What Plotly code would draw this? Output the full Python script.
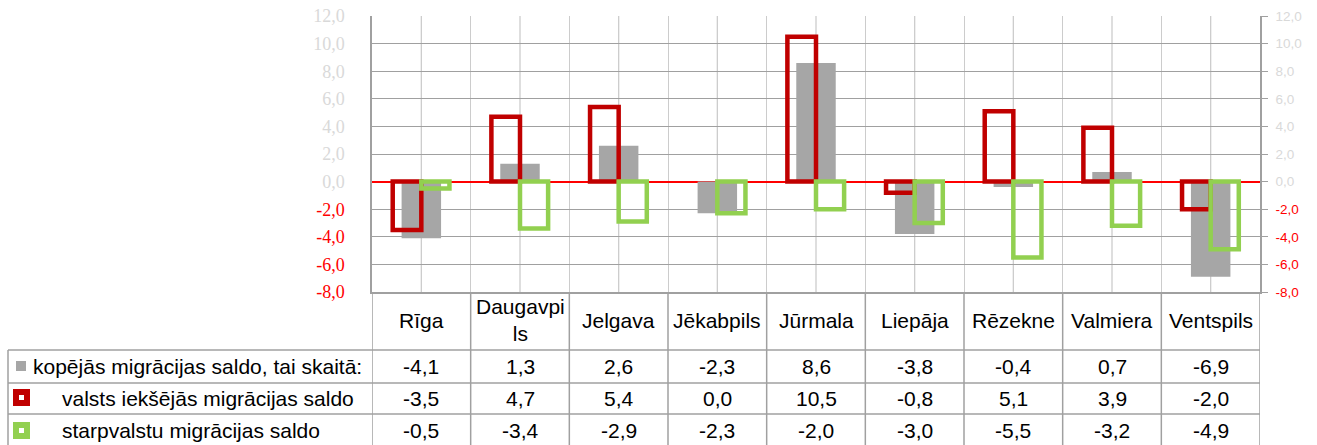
import plotly.graph_objects as go

# ── data ──────────────────────────────────────────────────────────────
cities = ["Rīga", "Daugavpils", "Jelgava", "Jēkabpils", "Jūrmala",
          "Liepāja", "Rēzekne", "Valmiera", "Ventspils"]
city_headers = ["Rīga", "Daugavpi<br>ls", "Jelgava", "Jēkabpils", "Jūrmala",
                "Liepāja", "Rēzekne", "Valmiera", "Ventspils"]

total_saldo = [-4.1, 1.3, 2.6, -2.3, 8.6, -3.8, -0.4, 0.7, -6.9]
internal_saldo = [-3.5, 4.7, 5.4, 0.0, 10.5, -0.8, 5.1, 3.9, -2.0]
external_saldo = [-0.5, -3.4, -2.9, -2.3, -2.0, -3.0, -5.5, -3.2, -4.9]

row_labels = ["kopējās migrācijas saldo, tai skaitā:",
              "valsts iekšējās migrācijas saldo",
              "starpvalstu migrācijas saldo"]

tick_values = [-8, -6, -4, -2, 0, 2, 4, 6, 8, 10, 12]

# ── styling ───────────────────────────────────────────────────────────
W, H = 1317, 445
M_L, M_R, M_T, M_B = 372, 57, 16, 153
PLOT_W = W - M_L - M_R
PLOT_H = H - M_T - M_B

GRAY = "#a6a6a6"
RED = "#c00000"
GREEN = "#92d050"
GRID_H = "#a0a0a0"
GRID_V = "#cccccc"
TABLE_LINE = "#a0a0a0"


def px_x(px):
    return (px - M_L) / PLOT_W


def px_y(py):
    return (H - M_B - py) / PLOT_H


def fmt(v):
    return f"{v:.1f}".replace(".", ",")


def tick_text(v):
    s = fmt(v)
    return f"<span style='color:#ff0000'>{s}</span>" if v < 0 else s


def hide_zero(vals):
    # a 0,0 bar is not drawn at all in the original chart
    return [None if v == 0 else v for v in vals]


ticktext = [tick_text(v) for v in tick_values]

fig = go.Figure()

fig.add_trace(go.Bar(
    x=cities, y=total_saldo, name=row_labels[0],
    marker=dict(color=GRAY, line=dict(width=0)),
    width=0.4, offset=-0.2, yaxis="y",
))
fig.add_trace(go.Bar(
    x=cities, y=hide_zero(internal_saldo), name=row_labels[1],
    marker=dict(color="rgba(0,0,0,0)", line=dict(color=RED, width=4.5)),
    width=0.29, offset=-0.29, yaxis="y2",
))
fig.add_trace(go.Bar(
    x=cities, y=hide_zero(external_saldo), name=row_labels[2],
    marker=dict(color="rgba(0,0,0,0)", line=dict(color=GREEN, width=4.5)),
    width=0.285, offset=0.0, yaxis="y2",
))

shapes = []
# mid-category vertical gridlines
for i in range(len(cities)):
    shapes.append(dict(type="line", xref="x", yref="paper", x0=i, x1=i, y0=0, y1=1,
                       line=dict(color=GRID_V, width=1.3), layer="below"))

# data table grid
row_lines = [350, 383, 414]
for py in row_lines:
    shapes.append(dict(type="line", xref="paper", yref="paper",
                       x0=px_x(8), x1=1, y0=px_y(py), y1=px_y(py),
                       line=dict(color=TABLE_LINE, width=1.5)))
for i in range(len(cities) + 1):
    shapes.append(dict(type="line", xref="x", yref="paper",
                       x0=i - 0.5, x1=i - 0.5, y0=px_y(H + 2), y1=0,
                       line=dict(color=TABLE_LINE, width=1.5)))
shapes.append(dict(type="line", xref="paper", yref="paper",
                   x0=px_x(8), x1=px_x(8), y0=px_y(H + 2), y1=px_y(350),
                   line=dict(color=TABLE_LINE, width=1.5)))

# legend keys in the table
shapes.append(dict(type="rect", xref="paper", yref="paper",
                   x0=px_x(16), x1=px_x(26), y0=px_y(371), y1=px_y(361),
                   fillcolor=GRAY, line=dict(width=0)))
for color, cy in [(RED, 397.5), (GREEN, 430.5)]:
    shapes.append(dict(type="rect", xref="paper", yref="paper",
                       x0=px_x(16), x1=px_x(27), y0=px_y(cy + 5.5), y1=px_y(cy - 5.5),
                       fillcolor="white", line=dict(color=color, width=6)))

annotations = []
tfont = dict(family="Liberation Sans, Arial", size=21, color="black")
for c, h in zip(cities, city_headers):
    annotations.append(dict(x=c, y=px_y(320), xref="x", yref="paper", text=h,
                            showarrow=False, font=tfont, xanchor="center",
                            yanchor="middle"))
for row, (vals, py) in enumerate(zip([total_saldo, internal_saldo, external_saldo],
                                     [366, 398, 430])):
    for c, v in zip(cities, vals):
        annotations.append(dict(x=c, y=px_y(py), xref="x", yref="paper", text=fmt(v),
                                showarrow=False, font=tfont, xanchor="center",
                                yanchor="middle"))
    lx = 31 if row == 0 else 60
    annotations.append(dict(x=px_x(lx), y=px_y(py), xref="paper", yref="paper",
                            text=row_labels[row], showarrow=False, font=tfont,
                            xanchor="left", yanchor="middle"))

fig.update_layout(
    width=W, height=H,
    margin=dict(l=M_L, r=M_R, t=M_T, b=M_B, autoexpand=False),
    plot_bgcolor="white", paper_bgcolor="white",
    barmode="overlay", showlegend=False,
    xaxis=dict(type="category", tickson="boundaries", showgrid=True,
               gridcolor=GRID_V, gridwidth=1.3, showticklabels=False,
               ticks="", showline=True, linecolor=TABLE_LINE, linewidth=1.5,
               range=[-0.5, len(cities) - 0.5], zeroline=False),
    yaxis=dict(range=[-8, 12], tickvals=tick_values, ticktext=ticktext,
               showgrid=True, gridcolor=GRID_H, gridwidth=1.3,
               zeroline=True, zerolinecolor="#ff0000", zerolinewidth=1.6,
               showline=True, linecolor=TABLE_LINE, linewidth=1.5,
               ticks="outside", ticklen=22, tickcolor="rgba(0,0,0,0)",
               tickfont=dict(family="Liberation Serif, Times New Roman",
                             size=18, color="#d9d9d9")),
    yaxis2=dict(range=[-8, 12], tickvals=tick_values, ticktext=ticktext,
                overlaying="y", side="right", showgrid=False, zeroline=False,
                showline=True, linecolor=TABLE_LINE, linewidth=1.5,
                ticks="outside", ticklen=6, tickcolor=TABLE_LINE,
                ticklabelstandoff=5,
                tickfont=dict(family="Liberation Sans, Arial", size=13.5,
                              color="#d9d9d9")),
    shapes=shapes,
    annotations=annotations,
)

fig.write_html("out.html", config={"displayModeBar": False},
               post_script="document.body.style.margin='0';")
